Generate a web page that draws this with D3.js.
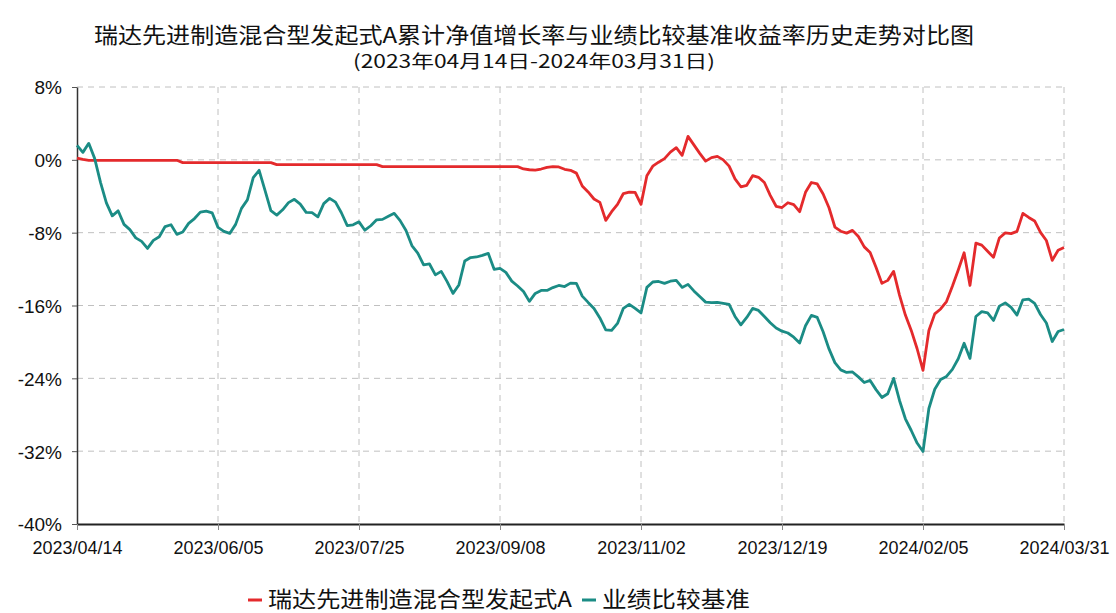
<!DOCTYPE html>
<html><head><meta charset="utf-8">
<script src="https://cdn.jsdelivr.net/npm/d3@7"></script>
<style>
html,body{margin:0;padding:0;background:#fff;}
svg{display:block;}
</style>
</head><body>
<svg id="chart" width="1116" height="613"></svg>
<script>
// ---- data ----
const titleText = "瑞达先进制造混合型发起式A累计净值增长率与业绩比较基准收益率历史走势对比图";
const subtitleText = "(2023年04月14日-2024年03月31日)";
const seriesNames = ["瑞达先进制造混合型发起式A", "业绩比较基准"];
const xTickLabels = ["2023/04/14","2023/06/05","2023/07/25","2023/09/08","2023/11/02","2023/12/19","2024/02/05","2024/03/31"];
const yTickValues = [8, 0, -8, -16, -24, -32, -40];

const fundValues = [
 0.20,0.05,-0.05,-0.05,-0.05,-0.05,-0.05,-0.05,-0.05,-0.05,
 -0.05,-0.05,-0.05,-0.05,-0.05,-0.05,-0.05,-0.05,-0.31,-0.31,
 -0.31,-0.31,-0.31,-0.31,-0.31,-0.31,-0.31,-0.31,-0.31,-0.31,
 -0.31,-0.31,-0.31,-0.31,-0.53,-0.53,-0.53,-0.53,-0.53,-0.53,
 -0.53,-0.53,-0.53,-0.53,-0.53,-0.53,-0.53,-0.53,-0.53,-0.53,
 -0.53,-0.53,-0.75,-0.75,-0.75,-0.75,-0.75,-0.75,-0.75,-0.75,
 -0.75,-0.75,-0.75,-0.75,-0.75,-0.75,-0.75,-0.75,-0.75,-0.75,
 -0.75,-0.75,-0.75,-0.75,-0.75,-0.75,-1.00,-1.09,-1.12,-1.01,
 -0.82,-0.74,-0.78,-1.04,-1.15,-1.46,-2.87,-3.53,-4.30,-4.67,
 -6.65,-5.70,-4.89,-3.70,-3.54,-3.57,-4.89,-1.75,-0.70,-0.26,
 0.13,0.85,1.34,0.49,2.58,1.64,0.71,-0.14,0.24,0.38,
 0.00,-0.69,-2.10,-2.96,-2.80,-1.74,-1.92,-2.49,-3.90,-5.10,
 -5.24,-4.71,-4.92,-5.70,-3.57,-2.49,-2.65,-3.75,-5.26,-7.38,
 -7.84,-8.05,-7.75,-8.42,-9.56,-10.18,-11.81,-13.57,-13.24,-12.25,
 -14.86,-17.05,-18.74,-20.75,-23.13,-18.74,-16.92,-16.38,-15.57,-13.89,
 -12.09,-10.21,-13.79,-9.15,-9.37,-10.05,-10.71,-8.58,-8.02,-8.11,
 -7.86,-5.88,-6.33,-6.71,-7.97,-8.86,-11.04,-9.93,-9.62
];
const benchValues = [
 1.59,0.82,1.81,0.16,-2.47,-4.73,-6.15,-5.60,-7.09,-7.67,
 -8.57,-8.96,-9.73,-8.85,-8.45,-7.33,-7.13,-8.19,-7.93,-6.98,
 -6.45,-5.74,-5.63,-5.82,-7.42,-7.86,-8.08,-7.09,-5.33,-4.40,
 -1.95,-1.15,-3.35,-5.59,-6.07,-5.49,-4.70,-4.34,-4.86,-5.77,
 -5.80,-6.26,-4.81,-4.23,-4.65,-5.81,-7.22,-7.14,-6.81,-7.73,
 -7.24,-6.59,-6.54,-6.21,-5.88,-6.68,-7.77,-9.42,-10.24,-11.54,
 -11.44,-12.64,-12.25,-13.38,-14.67,-13.74,-11.11,-10.73,-10.67,-10.49,
 -10.27,-12.03,-11.92,-12.36,-13.32,-13.86,-14.47,-15.55,-14.67,-14.34,
 -14.34,-14.03,-13.80,-13.92,-13.54,-13.57,-14.97,-15.66,-16.32,-17.37,
 -18.68,-18.74,-17.97,-16.31,-15.88,-16.32,-16.82,-14.01,-13.42,-13.36,
 -13.57,-13.33,-13.24,-14.01,-13.68,-14.40,-15.02,-15.63,-15.69,-15.66,
 -15.77,-15.88,-17.20,-18.13,-17.31,-16.32,-16.54,-17.20,-17.89,-18.48,
 -18.82,-19.02,-19.48,-20.12,-18.22,-17.09,-17.31,-18.89,-20.77,-22.27,
 -23.07,-23.35,-23.30,-23.84,-24.46,-24.23,-25.24,-26.10,-25.69,-24.01,
 -26.43,-28.44,-29.73,-31.11,-32.03,-27.31,-25.20,-24.13,-23.79,-23.02,
 -21.85,-20.14,-21.81,-17.21,-16.68,-16.82,-17.64,-16.07,-15.71,-16.21,
 -17.05,-15.38,-15.31,-15.76,-16.99,-17.92,-19.95,-18.86,-18.63
];
const seriesColors = ["#e42a2c", "#1b8c85"];

// ---- layout ----
const svg = d3.select("#chart");
const plotLeft = 77, plotRight = 1064, plotTop = 87, plotBottom = 524;
const N = fundValues.length;
const x = d3.scaleLinear().domain([0, N - 1]).range([plotLeft, plotRight]);
const y = d3.scaleLinear().domain([-40, 8]).range([plotBottom, plotTop]);
const tickIdx = xTickLabels.map((d, i) => i * (N - 1) / (xTickLabels.length - 1));

const labelFont = "'Liberation Sans', Arial, sans-serif";
const cjkFont = "'Noto Sans CJK SC', sans-serif";

// title
svg.append("text").attr("x", 534).attr("y", 43).attr("text-anchor", "middle")
  .attr("font-family", cjkFont).attr("font-size", 22).attr("fill", "#111")
  .attr("textLength", 880).attr("lengthAdjust", "spacingAndGlyphs").text(titleText);
svg.append("text").attr("x", 534).attr("y", 68).attr("text-anchor", "middle")
  .attr("font-family", cjkFont).attr("font-size", 18).attr("fill", "#111")
  .attr("textLength", 362).attr("lengthAdjust", "spacingAndGlyphs").text(subtitleText);

// grid
const grid = svg.append("g");
grid.selectAll("line.h").data(yTickValues.filter(v => v > -40)).enter().append("line")
  .attr("x1", plotLeft).attr("x2", plotRight).attr("y1", d => y(d)).attr("y2", d => y(d))
  .attr("stroke", "#c0c0c0").attr("stroke-width", 1).attr("stroke-dasharray", "6,5");
grid.selectAll("line.v").data(tickIdx.slice(1)).enter().append("line")
  .attr("x1", d => x(d)).attr("x2", d => x(d)).attr("y1", plotTop).attr("y2", plotBottom)
  .attr("stroke", "#c0c0c0").attr("stroke-width", 1).attr("stroke-dasharray", "6,5");

// axes
const yAxis = d3.axisLeft(y).tickValues(yTickValues).tickFormat(d => d + "%").tickSize(5).tickSizeOuter(0);
const gy = svg.append("g").attr("transform", `translate(${plotLeft},0)`).call(yAxis);
gy.select(".domain").attr("stroke", "#333").attr("stroke-width", 1.5);
gy.selectAll(".tick line").attr("stroke", "#555");
gy.selectAll(".tick text").attr("font-family", labelFont).attr("font-size", 19).attr("fill", "#111").attr("x", -15).attr("dy", "0.36em");

const xAxis = d3.axisBottom(x).tickValues(tickIdx).tickFormat((d, i) => xTickLabels[i]).tickSize(6).tickSizeOuter(0);
const gx = svg.append("g").attr("transform", `translate(0,${plotBottom})`).call(xAxis);
gx.select(".domain").attr("stroke", "#222").attr("stroke-width", 2);
gx.selectAll(".tick line").attr("stroke", "#888");
gx.selectAll(".tick text").attr("font-family", labelFont).attr("font-size", 18).attr("fill", "#111").attr("y", 17);

// lines
const line = d3.line().x((d, i) => x(i)).y(d => y(d));
[fundValues, benchValues].forEach((vals, k) => {
  svg.append("path").datum(vals).attr("d", line).attr("fill", "none")
    .attr("stroke", seriesColors[k]).attr("stroke-width", 2.8).attr("stroke-linejoin", "round");
});

// legend
const legendX = [248, 582];
const legendLen = [304, 148];
seriesNames.forEach((name, k) => {
  svg.append("line").attr("x1", legendX[k]).attr("x2", legendX[k] + 14).attr("y1", 600).attr("y2", 600)
    .attr("stroke", seriesColors[k]).attr("stroke-width", 3);
  svg.append("text").attr("x", legendX[k] + 20).attr("y", 607).attr("font-family", cjkFont)
    .attr("font-size", 22).attr("fill", "#111")
    .attr("textLength", legendLen[k]).attr("lengthAdjust", "spacingAndGlyphs").text(name);
});
</script>
</body></html>
